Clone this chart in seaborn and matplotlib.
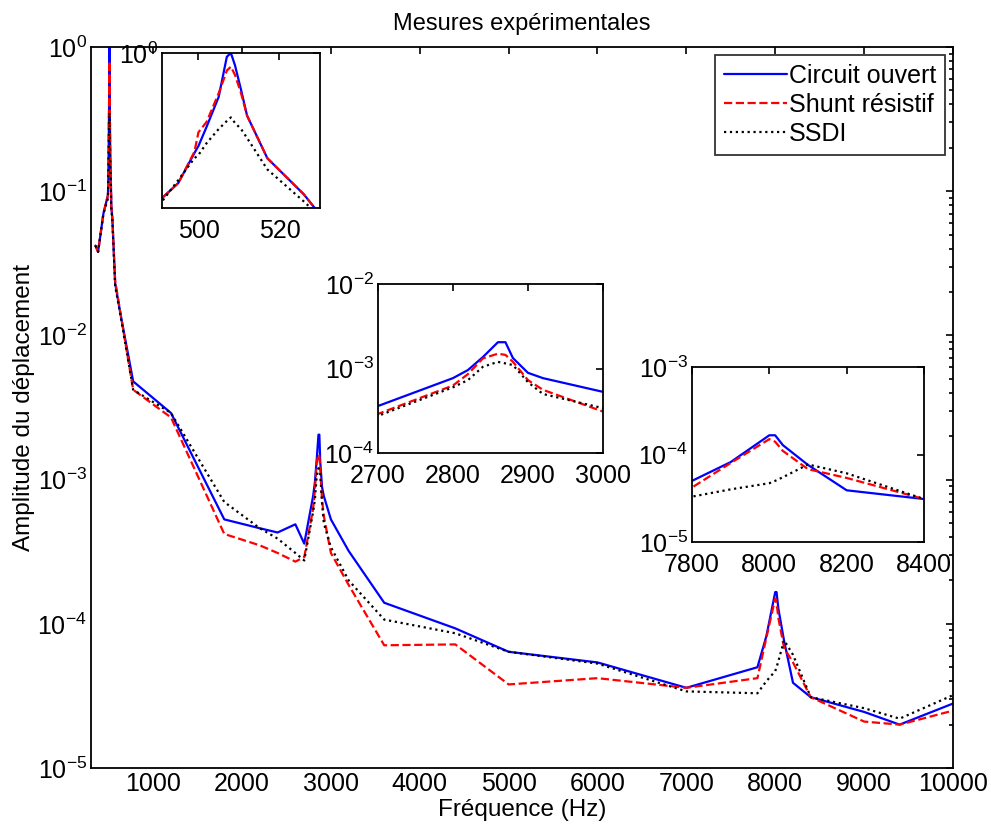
import numpy as np
import pandas as pd
import matplotlib
matplotlib.use("Agg")
import matplotlib.pyplot as plt
import seaborn as sns
from matplotlib.ticker import LogLocator, NullLocator, NullFormatter

# Fréquences (Hz) et amplitudes
freq = [350, 380, 440, 491, 495, 499, 500, 502, 505, 507, 508, 509, 510.5, 512, 517, 526, 529,
        540, 572, 630, 775, 1200, 1800, 2200, 2400, 2600, 2700, 2800, 2820, 2840, 2860, 2870,
        2880, 2900, 2920, 3000, 3200, 3600, 4400, 5000, 6000, 7000, 7800, 7900, 8000, 8015,
        8035, 8100, 8200, 8400, 9000, 9400, 10000]

circuit_ouvert = [0.042, 0.038, 0.07, 0.094, 0.12, 0.196, 0.22, 0.30, 0.49, 0.94, 1.0, 0.82, 0.55,
                  0.36, 0.18, 0.1, 0.078, 0.066, 0.023, 0.0143, 0.0048, 0.0029, 0.00053, 0.00046,
                  0.00043, 0.00049, 0.00036, 0.00077, 0.00096, 0.00137, 0.00205, 0.00205, 0.00133,
                  0.00089, 0.00077, 0.00053, 0.00032, 0.00014, 9.3e-5, 6.4e-5, 5.4e-5, 3.6e-5,
                  5.0e-5, 8.2e-5, 1.66e-4, 1.66e-4, 1.28e-4, 7.6e-5, 3.9e-5, 3.1e-5, 2.45e-5,
                  2.0e-5, 2.8e-5]

shunt_resistif = [0.042, 0.038, 0.07, 0.094, 0.12, 0.2, 0.275, 0.325, 0.52, 0.75, 0.80, 0.70, 0.52,
                  0.36, 0.18, 0.1, 0.078, 0.066, 0.024, 0.0145, 0.0042, 0.0027, 0.00042, 0.00035,
                  0.00031, 0.00027, 0.00029, 0.00063, 0.00086, 0.00132, 0.0015, 0.00145, 0.0012,
                  0.00073, 0.00056, 0.00031, 0.000186, 7.1e-5, 7.2e-5, 3.8e-5, 4.2e-5, 3.6e-5,
                  4.2e-5, 8.0e-5, 1.5e-4, 1.4e-4, 1.1e-4, 6.8e-5, 5.4e-5, 3.1e-5, 2.1e-5,
                  2.0e-5, 2.5e-5]

ssdi = [0.042, 0.038, 0.07, 0.089, 0.126, 0.18, 0.19, 0.23, 0.29, 0.33, 0.35, 0.32, 0.29,
        0.25, 0.15, 0.089, 0.074, 0.064, 0.022, 0.014, 0.0042, 0.0029, 0.0007, 0.00046,
        0.00039, 0.00031, 0.000275, 0.0006, 0.00073, 0.00105, 0.0012, 0.00115, 0.0011,
        0.00069, 0.0005, 0.00034, 0.0002, 0.000107, 8.6e-5, 6.4e-5, 5.3e-5, 3.4e-5,
        3.3e-5, 4.0e-5, 4.7e-5, 5.0e-5, 5.5e-5, 7.7e-5, 6.1e-5, 3.1e-5, 2.6e-5,
        2.2e-5, 3.2e-5]

series_names = ["Circuit ouvert", "Shunt résistif", "SSDI"]
series_values = [circuit_ouvert, shunt_resistif, ssdi]
series_colors = ["#0000ff", "#ff0000", "#000000"]
series_styles = ["-", "--", ":"]

# tableau long pour seaborn
df = pd.concat([pd.DataFrame({"freq": freq, "amp": v, "serie": n})
                for n, v in zip(series_names, series_values)], ignore_index=True)

sns.set_theme(style="white")
plt.rcParams["font.family"] = ["Liberation Sans", "DejaVu Sans"]
plt.rcParams["mathtext.fontset"] = "custom"
plt.rcParams["mathtext.rm"] = "Liberation Sans"
plt.rcParams["axes.edgecolor"] = "black"
plt.rcParams["axes.linewidth"] = 1.3
plt.rcParams["text.color"] = "black"
plt.rcParams["axes.labelcolor"] = "black"
plt.rcParams["xtick.color"] = "black"
plt.rcParams["ytick.color"] = "black"

TICK_FS = 18

fig = plt.figure(figsize=(9.91, 8.34), dpi=100)


def draw(ax, legend=False):
    for n, c, ls in zip(series_names, series_colors, series_styles):
        sub = df[df["serie"] == n]
        sns.lineplot(data=sub, x="freq", y="amp", ax=ax, color=c, linestyle=ls,
                     linewidth=1.6, label=n if legend else None, estimator=None, sort=False)
    ax.set_yscale("log")
    ax.set_xlabel("")
    ax.set_ylabel("")


def style_ticks(ax):
    ax.tick_params(direction="in", top=True, right=True, which="both",
                   labelsize=TICK_FS, length=5, width=1.2, pad=3)
    ax.tick_params(which="minor", length=3)


# axe principal
ax = fig.add_axes([0.0918, 0.0791, 0.8698, 0.8645])
draw(ax, legend=True)
ax.set_xlim(300, 10000)
ax.set_ylim(1e-5, 1e0)
ax.set_xticks(range(1000, 10001, 1000))
ax.yaxis.set_major_locator(LogLocator(base=10, numticks=10))
ax.yaxis.set_minor_locator(LogLocator(base=10, subs=np.arange(2, 10), numticks=100))
ax.yaxis.set_minor_formatter(NullFormatter())
style_ticks(ax)
ax.set_title("Mesures expérimentales", fontsize=17, pad=12)
ax.set_xlabel("Fréquence (Hz)", fontsize=17.5, labelpad=2)
ax.set_ylabel("Amplitude du déplacement", fontsize=17.5, labelpad=2)
leg = ax.legend(loc="upper right", bbox_to_anchor=(945 / 991, 1 - 55 / 834),
                bbox_transform=fig.transFigure, fontsize=18, frameon=True, fancybox=False,
                edgecolor="black", handlelength=2.5, handletextpad=0.1, borderpad=0.35,
                labelspacing=0.2, borderaxespad=0)
leg.get_frame().set_linewidth(1.3)

# encarts
insets = [
    ([0.1635, 0.7506, 0.1594, 0.1859], (491, 530), (0.08, 1.0), [500, 520], [1.0]),
    ([0.3814, 0.4568, 0.2270, 0.2026], (2700, 3000), (1e-4, 1e-2), [2700, 2800, 2900, 3000], [1e-4, 1e-3, 1e-2]),
    ([0.6983, 0.3501, 0.2341, 0.2098], (7800, 8400), (1e-5, 1e-3), [7800, 8000, 8200, 8400], [1e-5, 1e-4, 1e-3]),
]
for rect, xl, yl, xt, yt in insets:
    axi = fig.add_axes(rect)
    axi.set_facecolor("white")
    draw(axi)
    axi.set_xlim(*xl)
    axi.set_ylim(*yl)
    axi.set_xticks(xt)
    axi.set_yticks(yt)
    axi.yaxis.set_minor_locator(NullLocator())
    style_ticks(axi)
    axi.tick_params(axis="x", pad=8)

fig.savefig("out.png", dpi=100)
